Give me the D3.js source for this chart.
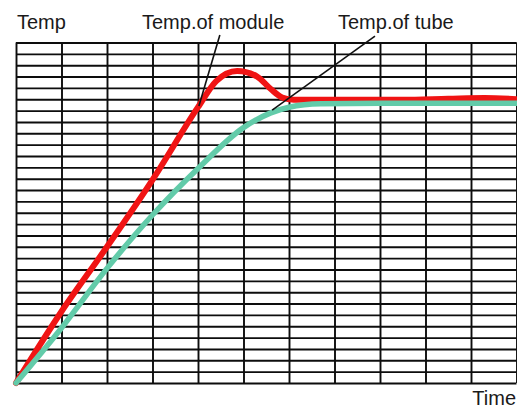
<!DOCTYPE html>
<html>
<head>
<meta charset="utf-8">
<script src="https://cdn.jsdelivr.net/npm/d3@7"></script>
<style>
  body { margin: 0; background: #fff; }
  text { font-family: "Liberation Sans", Arial, sans-serif; fill: #1a1a1a; }
</style>
</head>
<body>
<div id="chart"></div>
<script>
// grid divisions (time columns, temperature rows)
var timeTicks = d3.range(0, 12);
var tempTicks = d3.range(0, 31);

// [time, temp], in grid units
var moduleTemp = [
    [0, 0], [1, 6.3], [2, 12.0], [3, 17.9], [4, 24.3], [4.4, 26.6],
    [4.86, 27.5], [5.3, 27.0], [5.6, 25.9], [5.85, 25.15], [6.1, 24.95],
    [7, 24.95], [8.5, 24.95], [9.5, 25.05], [10.3, 25.12], [11, 25.0]
];
var tubeTemp = [
    [0, 0], [1, 4.85], [2, 10.1], [3, 14.8], [4, 18.9], [5, 22.5],
    [5.6, 23.8], [6, 24.3], [6.7, 24.6], [8, 24.65], [9.5, 24.65], [11, 24.65]
];

// leader lines from labels to curves
var leaders = [
    [[4.02, 24.4], [4.48, 30.66]],
    [[5.63, 24.05], [7.89, 30.57]]
];

function chart() {
    var width = 517;
    var height = 408;

    var canvas = d3.select("#chart")
                    .append("svg")
                    .attr("width", width)
                    .attr("height", height);

    var xScale = d3.scaleLinear()
                    .domain([0, 11])
                    .range([16, 516.5]);

    var yScale = d3.scaleLinear()
                    .domain([0, 30])
                    .range([383, 42.5]);

    // vertical grid lines
    var xGrid = d3.axisBottom(xScale)
                    .tickValues(timeTicks)
                    .tickSize(-(yScale(0) - yScale(30)))
                    .tickFormat("");

    // horizontal grid lines
    var yGrid = d3.axisLeft(yScale)
                    .tickValues(tempTicks)
                    .tickSize(-(xScale(11) - xScale(0)))
                    .tickFormat("");

    var gx = canvas.append("g")
        .attr("transform", "translate(0, " + yScale(0) + ")")
        .call(xGrid);

    var gy = canvas.append("g")
        .attr("transform", "translate(" + xScale(0) + ", 0)")
        .call(yGrid);

    [gx, gy].forEach(function(g) {
        g.select(".domain").remove();
        g.selectAll("line")
            .attr("stroke", "#0d0d0d")
            .attr("stroke-width", 1.9);
    });

    var line = d3.line()
                .x(function(d) { return xScale(d[0]); })
                .y(function(d) { return yScale(d[1]); })
                .curve(d3.curveMonotoneX);

    // Temp. of module
    canvas.append("path")
        .datum(moduleTemp)
        .attr("d", line)
        .attr("fill", "none")
        .attr("stroke", "#f01414")
        .attr("stroke-width", 6)
        .attr("stroke-linecap", "round");

    // Temp. of tube
    canvas.append("path")
        .datum(tubeTemp)
        .attr("d", line)
        .attr("fill", "none")
        .attr("stroke", "#62cba9")
        .attr("stroke-width", 5.5)
        .attr("stroke-linecap", "round");

    var straight = d3.line()
                .x(function(d) { return xScale(d[0]); })
                .y(function(d) { return yScale(d[1]); });

    canvas.selectAll(".leader")
        .data(leaders)
        .enter()
        .append("path")
        .attr("class", "leader")
        .attr("d", straight)
        .attr("stroke", "#111")
        .attr("stroke-width", 1.6);

    // labels
    canvas.append("text")
        .attr("x", 17)
        .attr("y", 29)
        .style("font-size", "20px")
        .text("Temp");

    canvas.append("text")
        .attr("x", 142)
        .attr("y", 29)
        .style("font-size", "20px")
        .text("Temp.of module");

    canvas.append("text")
        .attr("x", 338)
        .attr("y", 29)
        .style("font-size", "20px")
        .text("Temp.of tube");

    canvas.append("text")
        .attr("x", 516)
        .attr("y", 405)
        .attr("text-anchor", "end")
        .style("font-size", "20px")
        .text("Time");
}

window.onload = chart;
</script>
</body>
</html>
